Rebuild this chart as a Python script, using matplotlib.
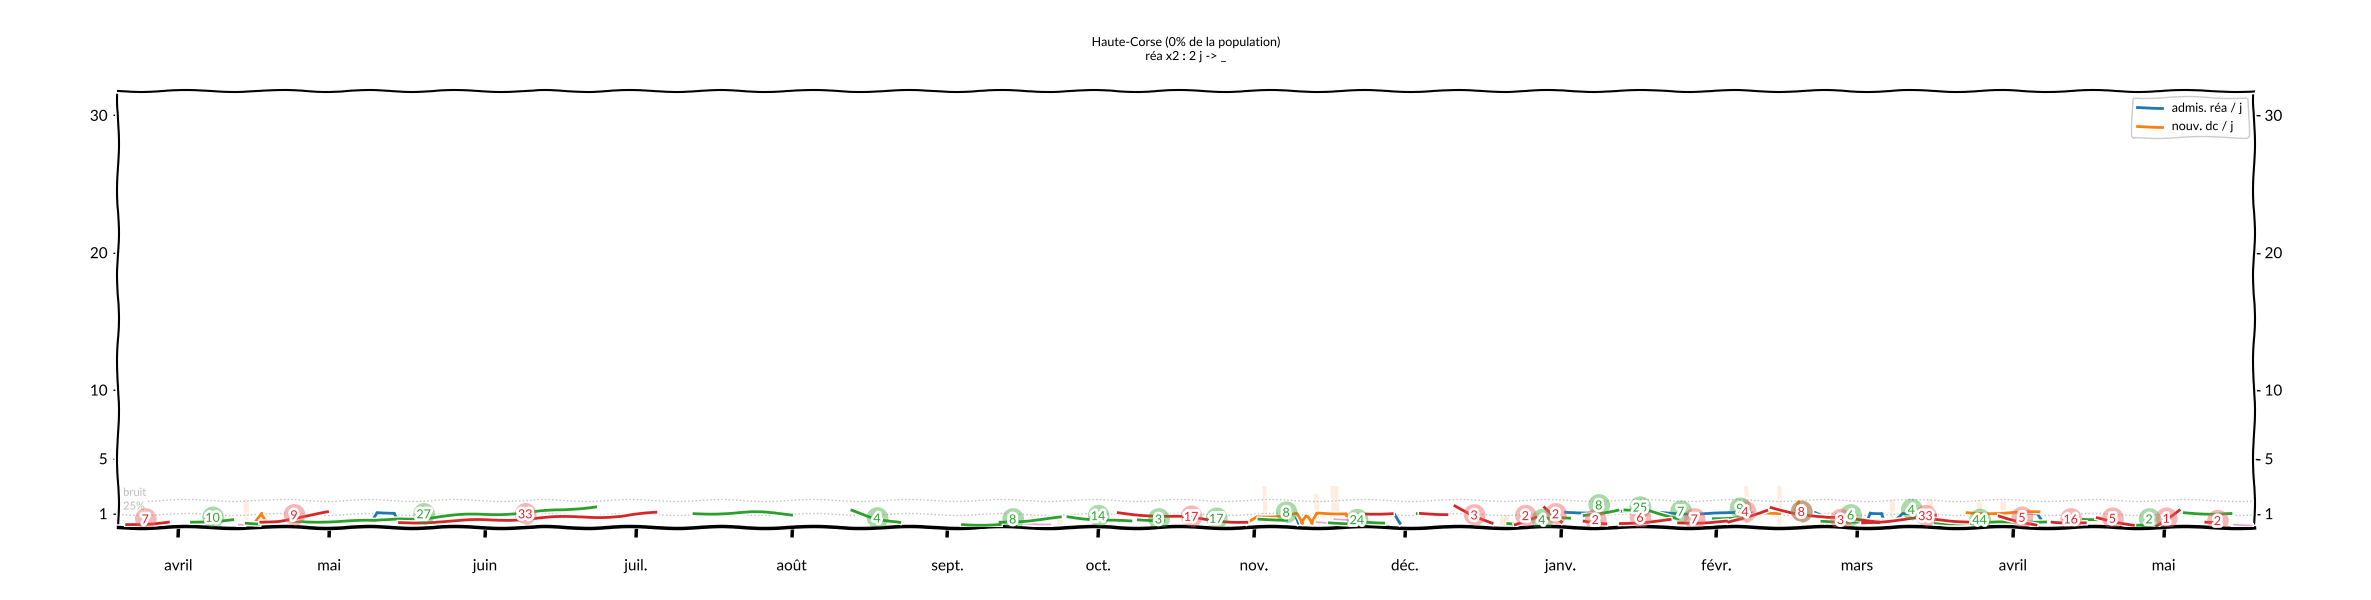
import numpy as np
import matplotlib
matplotlib.use("Agg")
import matplotlib.pyplot as plt
import matplotlib.dates as mdates
import datetime as dt

nan = np.nan

# day offsets from 2020-03-20, values per series (nan = gap)
red_days = [1.7, 6, 10, nan, 28.4, 32, 36, 41.7, nan, 56, 66, 76, 84, 93, 100, 107, nan,
            199, 207, 213, 219, 224.6, nan, 248.3, 253.5, nan, 259.1, 264.4, nan,
            266, 270, 273.4, nan, 278, 282, nan, 283.8, 287.3, nan, 291.7, 296, nan,
            298.9, 308.8, nan, 310.5, 320, nan, 320.5, 328, nan, 328.9, 334, 340, 350.3, nan,
            347.1, 361.6, nan, 361.6, 368, nan, 374.3, 381.6, nan, 384.8, 391.4, nan,
            393.8, 401, nan, 405.6, 410, nan, 415.4, 417.5]
red_vals = [0.2, 0.3, 0.4, nan, 0.38, 0.5, 0.75, 1.07, nan, 0.35, 0.45, 0.55, 0.68, 0.78, 0.8, 1.05, nan,
            1.07, 0.85, 0.7, 0.5, 0.38, nan, 0.97, 1.07, nan, 1.02, 1.0, nan,
            1.56, 0.87, 0.33, nan, 0.2, 0.8, nan, 1.45, 0.45, nan, 0.45, 0.33, nan,
            0.28, 0.58, nan, 0.33, 0.45, nan, 0.4, 1.27, nan, 1.44, 1.05, 0.7, 0.45, nan,
            0.33, 0.82, nan, 0.58, 0.45, nan, 0.82, 0.2, nan, 0.38, 0.38, nan,
            0.7, 0.2, nan, 0.1, 1.3, nan, 0.38, 0.38]

green_days = [14.6, 22.8, nan, 25.5, 28, nan, 35, 43, 51, 56, 61, 71, 81, 88, 95, nan,
              114.6, 120, 126, 134, nan, 146, 151, 155.5, nan, 168, 175.5, nan, 175.5, 187.5, nan,
              189, 195, 201.5, nan, 203, 208, nan, 227, 232.5, nan, 241, 244.8, nan,
              248.3, 251.8, nan, 258.5, 259.2, nan, 276.5, 277.5, nan, 282.5, 285.5, nan,
              287.5, 288.8, nan, 291.7, 298.4, nan, 299.8, 302.4, nan, 304.8, 310.4, nan,
              317.4, 322.3, nan, 339, 351, nan, 361.6, 378.5, nan, 377.5, 383.5, nan,
              391, 394.5, nan, 400.5, 404.5, nan, 411.1, 420.4]
green_vals = [0.38, 0.58, nan, 0.3, 0.3, nan, 0.45, 0.45, 0.45, 0.65, 0.68, 0.95, 1.05, 1.25, 1.55, nan,
              1.0, 1.05, 1.1, 0.95, nan, 1.25, 0.65, 0.34, nan, 0.2, 0.25, nan, 0.38, 0.7, nan,
              0.77, 0.6, 0.4, nan, 0.55, 0.55, nan, 0.6, 0.6, nan, 0.33, 0.33, nan,
              0.38, 0.38, nan, 1.0, 1.0, nan, 0.28, 0.28, nan, 0.7, 0.7, nan,
              0.7, 0.7, nan, 0.87, 1.3, nan, 1.27, 1.27, nan, 1.2, 0.7, nan,
              0.63, 0.78, nan, 0.45, 0.45, nan, 0.33, 0.33, nan, 0.45, 0.45, nan,
              0.58, 0.63, nan, 0.2, 0.2, nan, 1.07, 1.0]

blue_days = [50.8, 51.5, 55, 55.5, nan, 233.5, 234.3, 235, nan, 253.8, 255.2, nan,
             288, 300, 310, 320, 326, nan, 337.7, 339.7, nan, 348, 348.5, 351, 351.6, nan,
             353.4, 355, 359, nan, 377.6, 379, 382, 383]
blue_vals = [0.63, 1.1, 1.1, 0.8, nan, 1.0, 0.9, 0.33, nan, 1.07, 0.33, nan,
             1.1, 1.15, 1.05, 1.0, 1.05, nan, 1.07, 0.82, nan, 0.45, 1.07, 1.07, 0.45, nan,
             0.45, 1.07, 1.07, nan, 1.07, 1.07, 1.07, 0.45]

orange_days = [27.5, 28.5, 29.5, nan, 224.6, 226.5, 232.5, 234.5, 235.5, 236.5, 237.5, 238.5, 244.4, 245, nan,
               326.5, 330.6, nan, 333.6, 334.3, 335, 337.7, 339.4, nan, 367.9, 382.2]
orange_vals = [0.5, 1.05, 0.5, nan, 0.33, 0.83, 0.83, 1.0, 0.25, 0.8, 0.25, 1.05, 1.05, 0.35, nan,
               1.07, 1.07, nan, 1.1, 1.9, 1.1, 0.9, 0.45, nan, 1.07, 1.07]

pink_days = [24, 25, nan, 179.5, 185.5, nan, 238.5, 241, nan, 242, 244.8, nan, 387, 391, nan, 421, 424.5]
pink_vals = [0.2, 0.2, nan, 0.3, 0.28, nan, 0.38, 0.38, nan, 0.6, 0.6, nan, 0.55, 0.55, nan, 0.2, 0.2]

noise_days = [25.5, 182, 187.5, 228, 238.3, 241.6, 242.3, 275.5, 276.3, 324, 330.5, 353, 360.5, 370.3, 375, 395]
noise_vals = [2.0, 0.8, 0.7, 3.0, 2.4, 3.0, 3.0, 0.8, 0.8, 3.0, 3.0, 2.0, 2.0, 1.9, 1.9, 0.6]

red_lab_days = [5.4, 35, 81, 213.5, 269.8, 280, 286, 293.9, 302.8, 313.6, 323.7, 334.9, 342.7,
                359.6, 378.8, 388.5, 396.8, 407.5, 417.7]
red_lab_vals = [0.58, 0.88, 0.95, 0.77, 0.87, 0.82, 0.95, 0.53, 0.7, 0.58, 1.12, 1.12, 0.53,
                0.82, 0.7, 0.58, 0.63, 0.63, 0.46]
red_lab_text = ['7', '9', '33', '17', '3', '2', '2', '2', '6', '7', '4', '8', '3',
                '33', '5', '16', '5', '1', '2']

green_lab_days = [18.8, 60.8, 151, 178, 195, 207, 218.5, 232.4, 246.5, 283.3, 294.6, 302.8,
                  310.9, 322.7, 334.9, 344.7, 356.8, 370.4, 404.1]
green_lab_vals = [0.7, 0.95, 0.65, 0.58, 0.82, 0.58, 0.63, 1.07, 0.53, 0.53, 1.6, 1.44,
                  1.14, 1.36, 1.12, 0.87, 1.27, 0.53, 0.58]
green_lab_text = ['10', '27', '4', '8', '14', '3', '17', '8', '24', '4', '8', '25',
                  '7', '9', '8', '6', '4', '44', '2']

month_labels = ['avril', 'mai', 'juin', 'juil.', 'août', 'sept.', 'oct.', 'nov.',
                'déc.', 'janv.', 'févr.', 'mars', 'avril', 'mai']
y_ticks = [1, 5, 10, 20, 30]

start = mdates.date2num(dt.datetime(2020, 3, 20))


def xs(days):
    return start + np.asarray(days, dtype=float)


plt.xkcd(scale=1, length=100, randomness=2)
plt.rcParams['font.family'] = ['Lato', 'DejaVu Sans']

fig = plt.figure(figsize=(23.71, 6), dpi=100)
ax = fig.add_axes([0.0498, 0.121, 0.9009, 0.728])

# faint noise bars
ax.bar(xs(noise_days), noise_vals, width=0.8, color='#ff7f0e', alpha=0.07, zorder=1)

ax.plot(xs([0, 425]), [1, 1], ls=':', color='gray', lw=1, alpha=0.5, zorder=1)
ax.plot(xs([0, 425]), [2, 2], ls=':', color='gray', lw=1, alpha=0.5, zorder=1)
ax.text(xs([1])[0], 2.3, 'bruit', color='#bbbbbb', fontsize=8, zorder=2)
ax.text(xs([1])[0], 1.3, '25%', color='#bbbbbb', fontsize=8, zorder=2)

ax.plot(xs(blue_days), blue_vals, color='#1f77b4', zorder=3, label='admis. réa / j')
ax.plot(xs(orange_days), orange_vals, color='#ff7f0e', zorder=3, label='nouv. dc / j')
ax.plot(xs(pink_days), pink_vals, color='#e377c2', lw=1.2, alpha=0.7, zorder=3)
ax.plot(xs(green_days), green_vals, color='#2ca02c', zorder=3)
ax.plot(xs(red_days), red_vals, color='#d62728', zorder=3)

ax.scatter(xs(green_lab_days), green_lab_vals, s=230, color='#2ca02c', alpha=0.4,
           edgecolors='none', zorder=4)
for d, v, t in zip(green_lab_days, green_lab_vals, green_lab_text):
    ax.text(xs([d])[0], v, t, color='#2ca02c', ha='center', va='center', fontsize=9, zorder=5)
ax.scatter(xs(red_lab_days), red_lab_vals, s=230, color='#f06060', alpha=0.45,
           edgecolors='none', zorder=4)
for d, v, t in zip(red_lab_days, red_lab_vals, red_lab_text):
    ax.text(xs([d])[0], v, t, color='#e8202a', ha='center', va='center', fontsize=9, zorder=5)

ax.set_xlim(start, start + 425)
ax.set_ylim(0, 31.8)

month_starts = [dt.datetime(2020 + (m + 3) // 12, (m + 3) % 12 + 1, 1) for m in range(len(month_labels))]
ax.set_xticks(mdates.date2num(month_starts))
ax.set_xticklabels(month_labels)
ax.set_yticks(y_ticks)
ax.set_yticklabels([str(v) for v in y_ticks])

ax.tick_params(axis='x', length=7, width=2.5, pad=16, labelsize=11)
ax.tick_params(axis='y', length=4, width=1, labelsize=11, right=True, labelright=True)
ax.spines['bottom'].set_linewidth(2.5)

ax.legend(loc='upper right', fontsize=9, framealpha=1)
ax.set_title('Haute-Corse (0% de la population)\nréa x2 : 2 j -> _', fontsize=9, pad=22)

fig.savefig('out.png', dpi=100)
